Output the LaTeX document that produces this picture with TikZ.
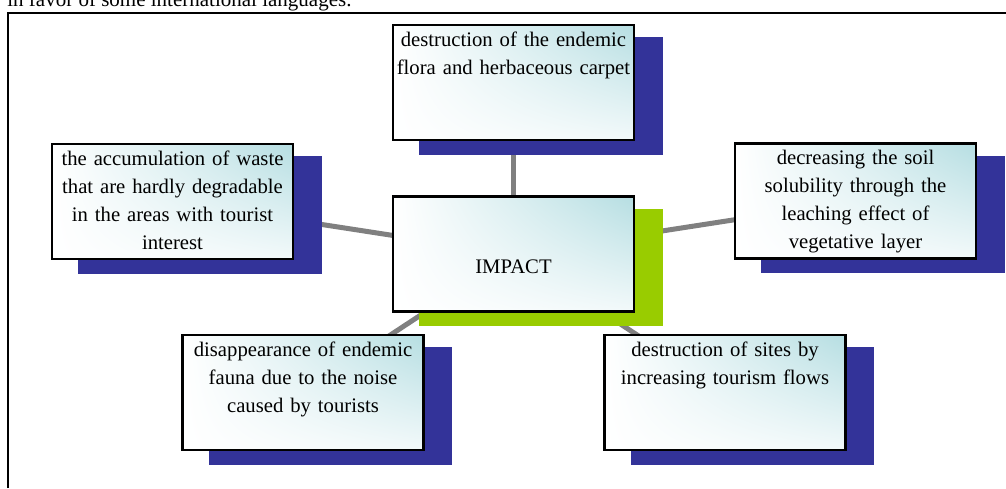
\documentclass[tikz,border=0pt]{standalone}
\usepackage{fontspec}
\setmainfont{Liberation Serif}
\usetikzlibrary{shadings}
\definecolor{shadowblue}{RGB}{51,51,153}
\definecolor{shadowgreen}{RGB}{153,204,0}
\definecolor{tint}{RGB}{182,222,226}
\definecolor{tintlight}{RGB}{242,249,250}
\definecolor{conngray}{RGB}{128,128,128}
\pgfdeclarelayer{connlayer}
\pgfdeclarelayer{shadowlayer}
\pgfsetlayers{connlayer,shadowlayer,main}
\tikzset{
  box/.style={draw=black, line width=1.1pt, rectangle,
    minimum width=120.5pt, minimum height=57.5pt, inner sep=0pt,
    upper right=tint, upper left=white, lower left=white, lower right=tintlight},
  boxtext/.style={align=center, text width=140pt, inner xsep=0pt, inner ysep=3.7pt,
    font=\fontsize{10.35}{14}\selectfont, anchor=north},
  connector/.style={draw=conngray, line width=2.5pt},
  frame/.style={draw=black, line width=1pt},
}
\begin{document}
\begin{tikzpicture}[x=0.5pt,y=-0.5pt]
\useasboundingbox (0,0) rectangle (1006,488);
\clip (0,0) rectangle (1006,488);
% header text (cut by the page top)
\node[anchor=base west, inner sep=0pt, font=\fontsize{10.5}{14}\selectfont] (hdr) at (7,6) {in favor of some international languages.};
% frame
\coordinate (fbl) at (8,488);
\coordinate (ftl) at (8,12.5);
\coordinate (ftr) at (1006,12.5);
\draw[frame] (fbl) -- (ftl) -- (ftr);
% boxes
\node[box] (imp) at (513.5,254) {};
\node[box] (top) at (513.5,82.5) {};
\node[box] (lft) at (172.5,201.5) {};
\node[box] (rgt) at (855.5,201) {};
\node[box] (bl) at (303,392.5) {};
\node[box] (br) at (725,392.5) {};
% texts
\node[font=\fontsize{10.35}{14}\selectfont, inner sep=0pt, anchor=base] (impt) at (513.5,273) {IMPACT};
\node[boxtext] (topt) at (top.north) {destruction of the endemic\\ flora and herbaceous carpet};
\node[boxtext] (lftt) at (lft.north) {the accumulation of waste\\ that are hardly degradable\\ in the areas with tourist\\ interest};
\node[boxtext] (rgtt) at (rgt.north) {decreasing the soil\\ solubility through the\\ leaching effect of\\ vegetative layer};
\node[boxtext] (blt) at (bl.north) {disappearance of endemic\\ fauna due to the noise\\ caused by tourists};
\node[boxtext] (brt) at (br.north) {destruction of sites by\\ increasing tourism flows};
% shadows
\begin{pgfonlayer}{shadowlayer}
\foreach \b/\c in {top/shadowblue, lft/shadowblue, rgt/shadowblue, bl/shadowblue, br/shadowblue, imp/shadowgreen}{
  \fill[\c] ([xshift=13.75pt,yshift=-6.75pt]\b.south west) rectangle ([xshift=13.75pt,yshift=-6.75pt]\b.north east);
}
\end{pgfonlayer}
% connectors
\begin{pgfonlayer}{connlayer}
\foreach \b in {top, lft, rgt, bl, br}{
  \draw[connector] (imp.center) -- (\b.center);
}
\end{pgfonlayer}
\end{tikzpicture}
\end{document}
